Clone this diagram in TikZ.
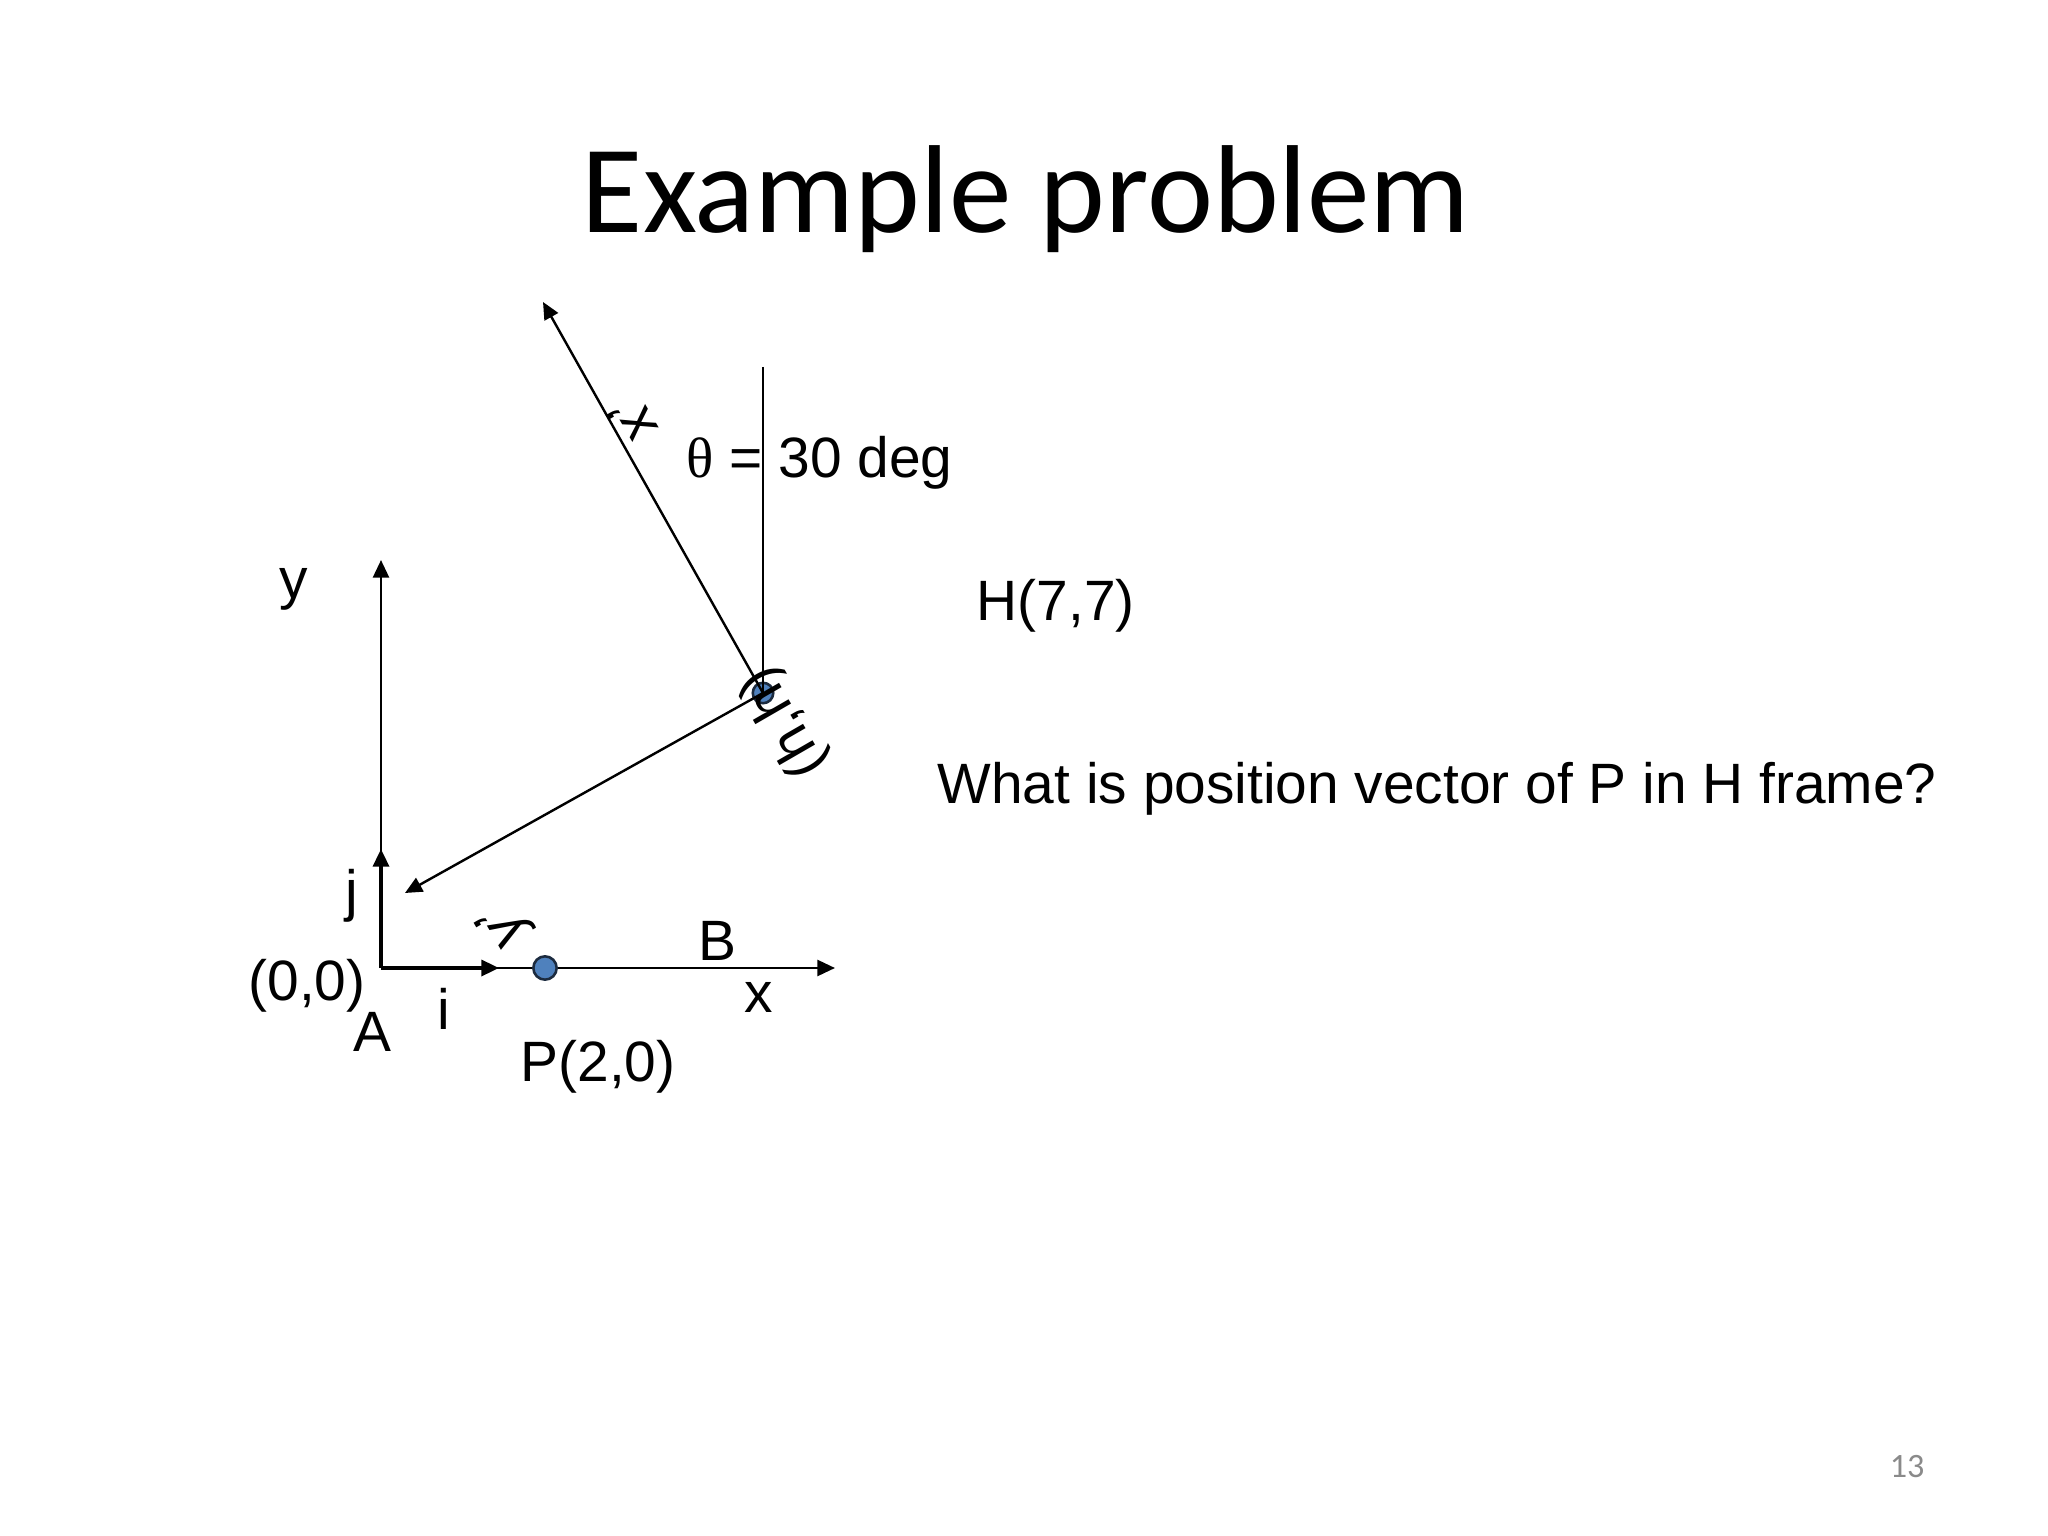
\documentclass[tikz,border=0pt]{standalone}
\usepackage{fontspec}
\setmainfont{Liberation Sans}
\newfontfamily\titlefont{Carlito}
\newfontfamily\thetafont{Liberation Serif}
\usetikzlibrary{arrows.meta}
\definecolor{dotfill}{HTML}{4F81BD}
\definecolor{dotline}{HTML}{1C2B3F}
\definecolor{pagegray}{HTML}{8A8A8A}
\begin{document}
\begin{tikzpicture}[x=0.3515625pt,y=-0.3515625pt,
  lbl/.style={font=\fontsize{20}{24}\selectfont, inner sep=0pt},
  axis/.style={line width=0.95pt, -{Triangle[length=6.2pt,width=5.6pt]}},
  unitv/.style={line width=1.25pt, -{Triangle[length=6.2pt,width=5.6pt]}},
  frame/.style={line width=0.85pt, -{Triangle[length=6pt,width=5.4pt]}},
  plain/.style={line width=0.85pt},
  dot/.style={circle, fill=dotfill, draw=dotline, line width=0.9pt, inner sep=0pt}]
\useasboundingbox (0,0) rectangle (2048,1536);
\fill[white] (0,0) rectangle (2048,1536);
% title and page number
\node[anchor=base, inner sep=0pt, font=\titlefont\fontsize{44}{52}\selectfont] (title) at (1026,233) {Example problem};
\node[anchor=base east, inner sep=0pt, text=pagegray, font=\titlefont\fontsize{12}{14}\selectfont] (pnum) at (1925,1477) {13};
% coordinates
\coordinate (O) at (381,968);
\coordinate (ytip) at (381,560);
\coordinate (jtip) at (381,849);
\coordinate (xtip) at (835,968);
\coordinate (itip) at (499,968);
\coordinate (vtop) at (763,367);
\coordinate (xptip) at (543,302);
\coordinate (yptip) at (405,893);
% H point
\node[dot, minimum size=7.2pt] (H) at (763,693) {};
\draw[plain] (vtop) -- (H.center);
\draw[frame] (H.center) -- (xptip);
\draw[frame] (H.center) -- (yptip);
% A frame
\draw[axis] (O) -- (ytip);
\draw[axis] (O) -- (xtip);
\draw[unitv] (O) -- (jtip);
\draw[unitv] (O) -- (itip);
\node[dot, minimum size=8.2pt] (P) at (545,968) {};
% labels
\node[lbl, anchor=base] (ylab) at (294,598) {y};
\node[lbl, anchor=base] (jlab) at (352,910) {j};
\node[lbl, anchor=base] (olab) at (307,1000) {(0,0)};
\node[lbl, anchor=base] (Alab) at (372,1051) {A};
\node[lbl, anchor=base] (ilab) at (444,1029) {i};
\node[lbl, anchor=base] (Plab) at (598,1081) {P(2,0)};
\node[lbl, anchor=base] (Blab) at (717,960) {B};
\node[lbl, anchor=base] (xlab) at (759,1012) {x};
\node[lbl, anchor=center, rotate=120] (xplab) at (632,420) {x’};
\node[lbl, anchor=center, rotate=120] (yplab) at (505,925) {y’};
\node[lbl, anchor=center, rotate=120] (hlab) at (785,722) {(h,h)};
\node[lbl, anchor=base west] (theta) at (686,478) {{\thetafont θ} = 30 deg};
\node[lbl, anchor=base west] (Hlab) at (976,621) {H(7,7)};
\node[lbl, anchor=base west] (q) at (937,803) {What is position vector of P in H frame?};
\end{tikzpicture}
\end{document}
